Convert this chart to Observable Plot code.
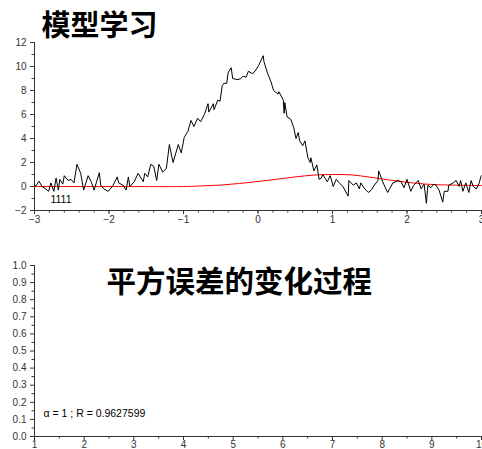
<!DOCTYPE html>
<html>
<head>
<meta charset="utf-8">
<script src="https://cdn.jsdelivr.net/npm/d3@7"></script>
<script src="https://cdn.jsdelivr.net/npm/@observablehq/plot@0.6"></script>
<style>
  body { margin: 0; background: #fff; }
  #chart svg { display: block; }
</style>
</head>
<body>
<div id="chart"></div>
<script>
// Noisy observed signal (black) on [-3, 3]
const signalX = [
  -3.00, -2.98, -2.94, -2.90, -2.85, -2.81, -2.78, -2.74, -2.71, -2.68,
  -2.66, -2.62, -2.60, -2.55, -2.51, -2.47, -2.43, -2.38, -2.34, -2.28,
  -2.24, -2.20, -2.13, -2.11, -2.07, -2.01, -1.95, -1.89, -1.87, -1.81,
  -1.77, -1.74, -1.72, -1.66, -1.61, -1.57, -1.54, -1.52, -1.48, -1.44,
  -1.40, -1.36, -1.33, -1.28, -1.23, -1.19, -1.14, -1.07, -1.03, -0.99,
  -0.94, -0.90, -0.86, -0.81, -0.77, -0.72, -0.67, -0.66, -0.60, -0.59,
  -0.54, -0.51, -0.48, -0.46, -0.42, -0.40, -0.36, -0.34, -0.27, -0.23,
  -0.20, -0.16, -0.13, -0.07, -0.03, 0.01, 0.07, 0.08, 0.13, 0.17,
  0.21, 0.27, 0.28, 0.34, 0.35, 0.36, 0.39, 0.44, 0.48, 0.51,
  0.54, 0.56, 0.60, 0.63, 0.67, 0.70, 0.71, 0.75, 0.79, 0.82,
  0.85, 0.87, 0.89, 0.93, 0.97, 1.01, 1.05, 1.09, 1.14, 1.21,
  1.22, 1.28, 1.32, 1.36, 1.38, 1.42, 1.48, 1.52, 1.56, 1.61,
  1.62, 1.68, 1.74, 1.81, 1.88, 1.92, 1.96, 2.00, 2.05, 2.09,
  2.15, 2.19, 2.23, 2.26, 2.28, 2.32, 2.36, 2.39, 2.43, 2.48,
  2.50, 2.55, 2.56, 2.62, 2.66, 2.70, 2.72, 2.75, 2.79, 2.83,
  2.86, 2.89, 2.93, 2.97, 2.99, 3.00
];
const signalY = [
  0.10, 0.05, 0.45, 0.00, -0.20, -0.40, 0.30, -0.40, 0.70, -0.30,
  0.60, 0.20, 0.90, 0.50, 0.60, 0.30, 1.85, 1.10, -0.30, 0.90,
  0.40, -0.30, 1.15, 0.10, -0.20, -0.40, 0.05, 0.80, 0.30, 0.10,
  -0.30, 0.80, 0.00, 0.40, 1.10, 0.70, 0.40, 1.10, 0.80, 1.85,
  1.70, 0.50, 1.85, 1.20, 1.50, 3.50, 2.00, 3.50, 2.80, 4.10,
  4.60, 5.50, 5.00, 5.70, 5.40, 6.00, 6.90, 6.20, 6.90, 6.40,
  7.20, 7.10, 8.40, 8.60, 8.60, 9.50, 9.90, 9.00, 8.90, 9.00,
  9.20, 9.10, 9.60, 9.40, 9.70, 10.10, 10.90, 10.40, 9.40, 8.80,
  8.00, 7.70, 7.90, 7.20, 6.10, 7.00, 5.80, 5.60, 4.90, 4.00,
  4.50, 3.80, 3.40, 3.80, 2.40, 2.00, 2.40, 1.30, 1.80, 0.60,
  0.70, 1.00, 0.80, 0.40, 0.90, 0.00, 0.60, 0.30, 0.00, -0.80,
  0.50, 0.10, 0.30, -0.20, 0.30, -0.10, -0.50, -0.30, 0.10, 0.50,
  1.30, 0.30, -0.50, 0.30, 0.50, 0.40, -0.10, 0.60, -0.40, 0.10,
  0.50, -0.20, 0.20, -1.40, 0.10, -0.10, 0.20, 0.10, -0.30, -1.30,
  -0.40, -0.40, 0.10, 0.30, 0.50, 0.00, 0.50, -0.40, 0.30, -0.50,
  0.50, 0.00, -0.20, 0.30, 0.80, 0.90
];

// Fitted model curve (red)
const modelX = [-3, -2, -1, -0.75, -0.5, -0.25, 0, 0.25, 0.5, 0.75, 1, 1.25, 1.5, 1.75, 2, 2.25, 2.5, 2.75, 3];
const modelY = [0, 0, 0, 0.05, 0.12, 0.25, 0.42, 0.6, 0.8, 0.95, 1.0, 0.97, 0.78, 0.55, 0.35, 0.2, 0.13, 0.1, 0.08];

// Text
const topTitle = "模型学习";
const bottomTitle = "平方误差的变化过程";
const topNote = "1111";
const bottomNote = "α = 1 ; R = 0.9627599";

// Tick values
const topXTicks = [-3, -2, -1, 0, 1, 2, 3];
const topYTicks = [-2, 0, 2, 4, 6, 8, 10, 12];
const bottomXTicks = [1, 2, 3, 4, 5, 6, 7, 8, 9, 10];
const bottomYTicks = [0, 0.1, 0.2, 0.3, 0.4, 0.5, 0.6, 0.7, 0.8, 0.9, 1.0];

const topXMinor = d3.range(-30, 31, 2).map(v => v / 10);
const topYMinor = d3.range(-1, 12, 2);
const bottomXMinor = d3.range(15, 100, 10).map(v => v / 10);
const bottomYMinor = d3.range(5, 100, 10).map(v => v / 100);

const ink = "#333";
const baseStyle = {
  fontFamily: "'Liberation Sans', Arial, sans-serif",
  fontSize: "10px",
  color: ink,
  background: "#fff",
  overflow: "visible"
};
const titleFont = "'Noto Sans CJK SC', sans-serif";
const blank = () => "";

const topPlot = Plot.plot({
  width: 482,
  height: 230,
  marginTop: 42,
  marginBottom: 20,
  marginLeft: 34,
  marginRight: 1,
  style: baseStyle,
  x: {domain: [-3, 3], label: null},
  y: {domain: [-2, 12], label: null},
  marks: [
    Plot.axisX(topXMinor, {tickSize: 2.5, tickFormat: blank, stroke: ink}),
    Plot.axisX(topXTicks, {tickSize: 4, tickPadding: 1, stroke: ink, fill: ink}),
    Plot.axisY(topYMinor, {tickSize: 2.5, tickFormat: blank, stroke: ink}),
    Plot.axisY(topYTicks, {tickSize: 4, tickPadding: 4, stroke: ink, fill: ink}),
    Plot.ruleX([-3], {stroke: ink}),
    Plot.ruleY([-2], {stroke: ink}),
    Plot.line(modelX, {x: modelX, y: modelY, stroke: "#ff0000", strokeWidth: 1, curve: "catmull-rom"}),
    Plot.line(signalX, {x: signalX, y: signalY, stroke: "#000", strokeWidth: 1}),
    Plot.text([topNote], {frameAnchor: "bottom-left", dx: 16, dy: -11, textAnchor: "start", lineAnchor: "middle", fontSize: 10.5, fill: "#000"}),
    Plot.text([topTitle], {frameAnchor: "top-left", dx: 7, dy: -16, textAnchor: "start", lineAnchor: "middle", fontSize: 29, fontWeight: "bold", fontFamily: titleFont, fill: "#000"})
  ]
});

const bottomPlot = Plot.plot({
  width: 482,
  height: 219,
  marginTop: 35,
  marginBottom: 13,
  marginLeft: 34,
  marginRight: 1,
  style: baseStyle,
  x: {domain: [1, 10], label: null},
  y: {domain: [0, 1], label: null},
  marks: [
    Plot.axisX(bottomXMinor, {tickSize: 2.5, tickFormat: blank, stroke: ink}),
    Plot.axisX(bottomXTicks, {tickSize: 4, tickPadding: 0, stroke: ink, fill: ink}),
    Plot.axisY(bottomYMinor, {tickSize: 2.5, tickFormat: blank, stroke: ink}),
    Plot.axisY(bottomYTicks, {tickSize: 4, tickPadding: 4, tickFormat: d3.format(".1f"), stroke: ink, fill: ink}),
    Plot.ruleX([1], {stroke: ink}),
    Plot.ruleY([0], {stroke: ink}),
    Plot.text([bottomNote], {frameAnchor: "bottom-left", dx: 9, dy: -23, textAnchor: "start", lineAnchor: "middle", fontSize: 10.5, fill: "#000"}),
    Plot.text([bottomTitle], {frameAnchor: "top-left", dx: 72, dy: 17, textAnchor: "start", lineAnchor: "middle", fontSize: 29.5, fontWeight: "bold", fontFamily: titleFont, fill: "#000"})
  ]
});

const root = document.getElementById("chart");
root.appendChild(topPlot);
root.appendChild(bottomPlot);
</script>
</body>
</html>
